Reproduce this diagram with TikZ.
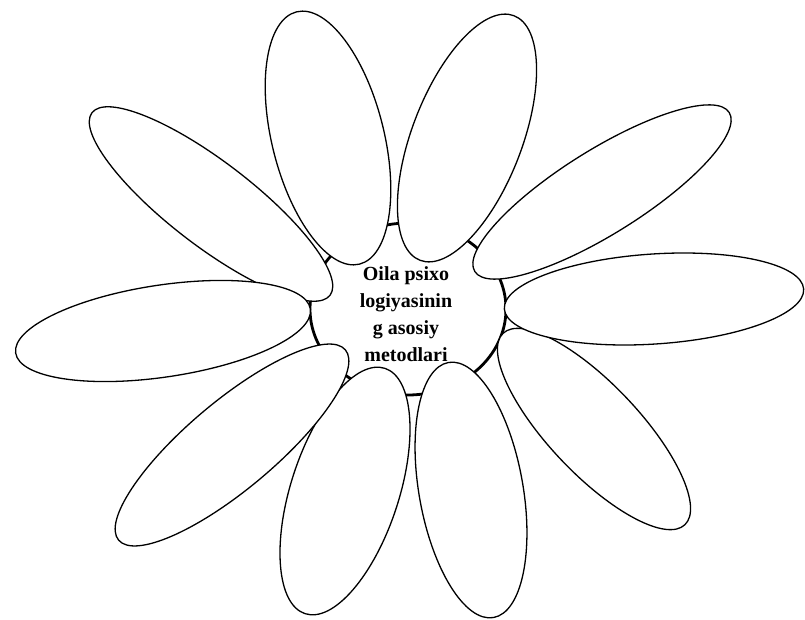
\documentclass[tikz,border=0pt]{standalone}
\usepackage{fontspec}
\setmainfont{Liberation Serif}
\usetikzlibrary{shapes.geometric}
\tikzset{
  petal/.style={draw=black, fill=white, ellipse, inner sep=0pt, outer sep=0pt, line width=1.3bp},
  core/.style={draw=black, fill=white, ellipse, inner sep=0pt, line width=2.8bp},
  lbl/.style={font=\fontsize{20bp}{27bp}\selectfont\bfseries, anchor=base, inner sep=0pt}
}
\begin{document}
\begin{tikzpicture}[x=1bp, y=-1bp]
\useasboundingbox[fill=white] (0,0) rectangle (805,620);
% centre
\node[core, minimum width=196bp, minimum height=172bp] (c) at (408,309) {};
\node[lbl] (t1) at (406,280) {Oila psixo};
\node[lbl] (t2) at (406,307) {logiyasinin};
\node[lbl] (t3) at (406,334) {g asosiy};
\node[lbl] (t4) at (406,361) {metodlari};
% petals
\node[petal, minimum width=260bp, minimum height=112bp, rotate=104] (p1) at (328,138) {};
\node[petal, minimum width=262bp, minimum height=110bp, rotate=69] (p2) at (467,138) {};
\node[petal, minimum width=300bp, minimum height=84bp, rotate=-37.5] (p3) at (211,204) {};
\node[petal, minimum width=264bp, minimum height=90bp, rotate=-46.5] (p8) at (594,429) {};
\node[petal, minimum width=258bp, minimum height=108bp, rotate=72] (p9) at (345,491) {};
\node[petal, minimum width=259bp, minimum height=104bp, rotate=100] (p10) at (471,490) {};
\node[petal, minimum width=298bp, minimum height=92bp, rotate=8.5] (p5) at (163,331) {};
\node[petal, minimum width=296bp, minimum height=88bp, rotate=40] (p7) at (232,445) {};
\node[petal, minimum width=300bp, minimum height=90bp, rotate=3.8] (p6) at (654,299) {};
\node[petal, minimum width=300bp, minimum height=84bp, rotate=32] (p4) at (602,192) {};
\end{tikzpicture}
\end{document}
